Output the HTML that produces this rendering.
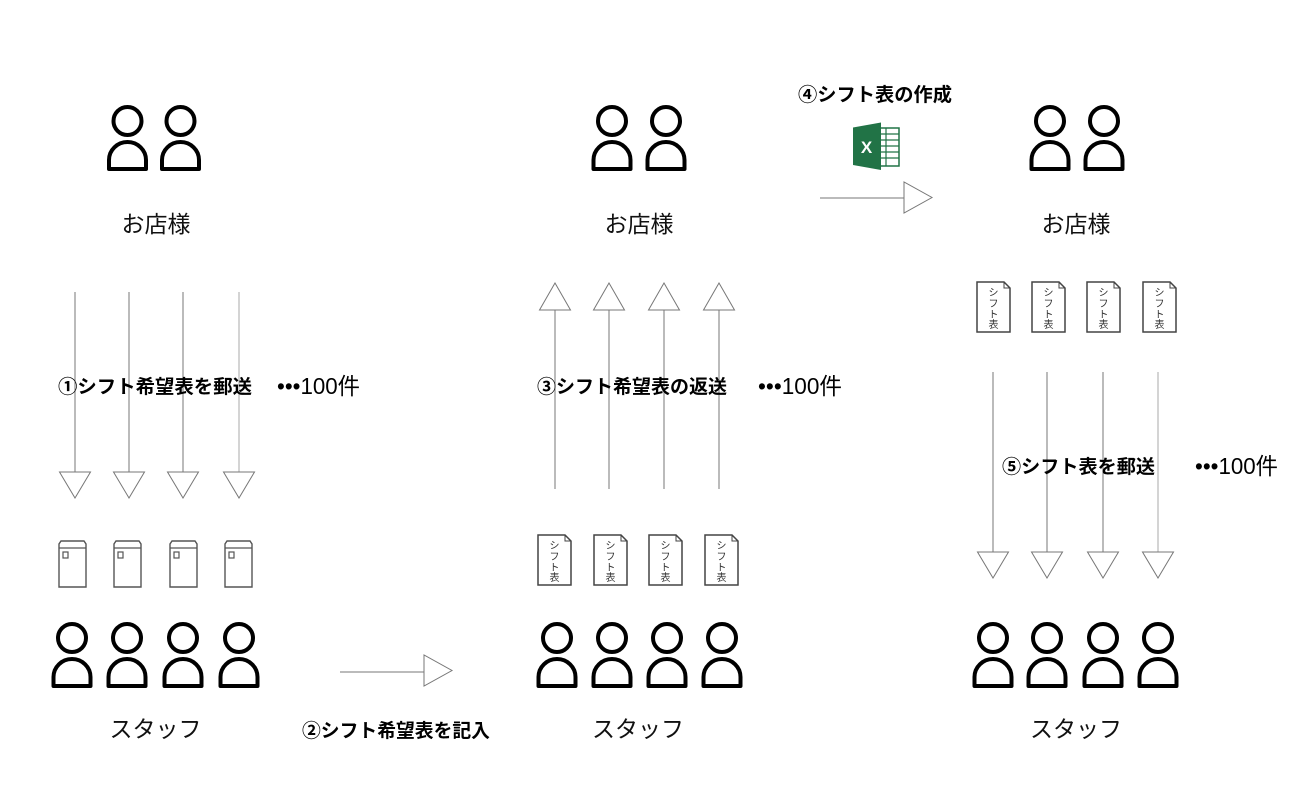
<!DOCTYPE html>
<html><head><meta charset="utf-8">
<style>
html,body{margin:0;padding:0;background:#fff;}
svg{display:block;}
.jp{font-family:"Liberation Sans","Noto Sans CJK JP",sans-serif;}
</style></head>
<body>
<svg width="1300" height="800" viewBox="0 0 1300 800" xmlns="http://www.w3.org/2000/svg">
<defs>
  <g id="person">
    <circle cx="0" cy="16" r="14" fill="none" stroke="#000" stroke-width="4"/>
    <path d="M-18.5,64 V55 A18.5,18 0 0 1 18.5,55 V64 Z" fill="none" stroke="#000" stroke-width="4" stroke-linejoin="round"/>
  </g>
  <g id="env">
    <path d="M2,0 H25 L27,3 V46 H0 V3 Z" fill="#fff" stroke="#555" stroke-width="1.4"/>
    <line x1="0" y1="7" x2="27" y2="7" stroke="#555" stroke-width="1.2"/>
    <rect x="4" y="11" width="5" height="6" fill="none" stroke="#555" stroke-width="1.2"/>
  </g>
  <g id="doc">
    <path d="M0,0 H27 L33,6 V50 H0 Z" fill="#fff" stroke="#444" stroke-width="1.5"/>
    <path d="M27,0 V6 H33" fill="none" stroke="#444" stroke-width="1"/>
    <g font-family="'Liberation Sans','Noto Sans CJK JP',sans-serif" font-size="10" fill="#333" text-anchor="middle">
      <text x="16.5" y="14">シ</text>
      <text x="16.5" y="25">フ</text>
      <text x="16.5" y="36">ト</text>
      <text x="16.5" y="46">表</text>
    </g>
  </g>
</defs>

<!-- Top persons -->
<use href="#person" x="127.5" y="105"/>
<use href="#person" x="180.5" y="105"/>
<use href="#person" x="612" y="105"/>
<use href="#person" x="666" y="105"/>
<use href="#person" x="1050" y="105"/>
<use href="#person" x="1104" y="105"/>

<!-- Bottom persons -->
<use href="#person" x="72" y="622"/>
<use href="#person" x="127" y="622"/>
<use href="#person" x="183" y="622"/>
<use href="#person" x="239" y="622"/>
<use href="#person" x="557" y="622"/>
<use href="#person" x="612" y="622"/>
<use href="#person" x="667" y="622"/>
<use href="#person" x="722" y="622"/>
<use href="#person" x="993" y="622"/>
<use href="#person" x="1047" y="622"/>
<use href="#person" x="1103" y="622"/>
<use href="#person" x="1158" y="622"/>

<!-- Labels shop / staff -->
<g class="jp" font-size="23" fill="#111" text-anchor="middle">
  <text x="156" y="232">お店様</text>
  <text x="639" y="232">お店様</text>
  <text x="1076" y="232">お店様</text>
  <text x="155.5" y="737">スタッフ</text>
  <text x="638" y="737">スタッフ</text>
  <text x="1076" y="737">スタッフ</text>
</g>

<!-- Left group: down arrows -->
<g stroke="#777" stroke-width="1" fill="#fff">
  <line x1="75" y1="292" x2="75" y2="472"/>
  <line x1="129" y1="292" x2="129" y2="472"/>
  <line x1="183" y1="292" x2="183" y2="472"/>
  <line x1="239" y1="292" x2="239" y2="472" stroke="#aaa"/>
  <polygon points="59.5,472 90.5,472 75,498"/>
  <polygon points="113.5,472 144.5,472 129,498"/>
  <polygon points="167.5,472 198.5,472 183,498"/>
  <polygon points="223.5,472 254.5,472 239,498"/>
</g>

<!-- Envelopes -->
<use href="#env" x="59" y="541"/>
<use href="#env" x="114" y="541"/>
<use href="#env" x="170" y="541"/>
<use href="#env" x="225" y="541"/>

<!-- Middle group: up arrows -->
<g stroke="#777" stroke-width="1" fill="#fff">
  <line x1="555" y1="310" x2="555" y2="489"/>
  <line x1="609" y1="310" x2="609" y2="489"/>
  <line x1="664" y1="310" x2="664" y2="489"/>
  <line x1="719" y1="310" x2="719" y2="489"/>
  <polygon points="539.5,310 570.5,310 555,283"/>
  <polygon points="593.5,310 624.5,310 609,283"/>
  <polygon points="648.5,310 679.5,310 664,283"/>
  <polygon points="703.5,310 734.5,310 719,283"/>
</g>

<!-- Middle docs -->
<use href="#doc" x="538" y="535"/>
<use href="#doc" x="594" y="535"/>
<use href="#doc" x="649" y="535"/>
<use href="#doc" x="705" y="535"/>

<!-- Right docs -->
<use href="#doc" x="977" y="282"/>
<use href="#doc" x="1032" y="282"/>
<use href="#doc" x="1087" y="282"/>
<use href="#doc" x="1143" y="282"/>

<!-- Right group: down arrows -->
<g stroke="#777" stroke-width="1" fill="#fff">
  <line x1="993" y1="372" x2="993" y2="552"/>
  <line x1="1047" y1="372" x2="1047" y2="552"/>
  <line x1="1103" y1="372" x2="1103" y2="552"/>
  <line x1="1158" y1="372" x2="1158" y2="552" stroke="#aaa"/>
  <polygon points="977.5,552 1008.5,552 993,578"/>
  <polygon points="1031.5,552 1062.5,552 1047,578"/>
  <polygon points="1087.5,552 1118.5,552 1103,578"/>
  <polygon points="1142.5,552 1173.5,552 1158,578"/>
</g>

<!-- Horizontal arrows -->
<g stroke="#777" stroke-width="1" fill="#fff">
  <line x1="820" y1="198" x2="904" y2="198"/>
  <polygon points="904,182 904,213 932,197.5"/>
  <line x1="340" y1="672" x2="424" y2="672"/>
  <polygon points="424,655 424,686 452,670.5"/>
</g>

<!-- Excel icon -->
<g>
  <rect x="873" y="128" width="26" height="38" fill="#fff" stroke="#217346" stroke-width="1.5"/>
  <g stroke="#217346" stroke-width="1.2">
    <line x1="886" y1="128" x2="886" y2="166"/>
    <line x1="881" y1="134" x2="899" y2="134"/>
    <line x1="881" y1="140" x2="899" y2="140"/>
    <line x1="881" y1="146" x2="899" y2="146"/>
    <line x1="881" y1="152" x2="899" y2="152"/>
    <line x1="881" y1="158" x2="899" y2="158"/>
  </g>
  <polygon points="853,127.5 881,122.5 881,170 853,165" fill="#217346"/>
  <text x="866.5" y="153" font-family="'Liberation Sans',sans-serif" font-weight="bold" font-size="17" fill="#fff" text-anchor="middle">X</text>
</g>

<!-- Step labels -->
<g class="jp" font-weight="bold" font-size="19" fill="#000">
  <text x="58" y="393" textLength="194" lengthAdjust="spacingAndGlyphs">①シフト希望表を郵送</text>
  <text x="302" y="737" textLength="188" lengthAdjust="spacingAndGlyphs">②シフト希望表を記入</text>
  <text x="537" y="393" textLength="190" lengthAdjust="spacingAndGlyphs">③シフト希望表の返送</text>
  <text x="798" y="101" textLength="154" lengthAdjust="spacingAndGlyphs">④シフト表の作成</text>
  <text x="1002" y="473" textLength="153" lengthAdjust="spacingAndGlyphs">⑤シフト表を郵送</text>
</g>

<!-- Count labels -->
<g class="jp" font-size="23" fill="#000">
  <text x="277" y="394" textLength="83" lengthAdjust="spacingAndGlyphs">•••100件</text>
  <text x="758" y="394" textLength="84" lengthAdjust="spacingAndGlyphs">•••100件</text>
  <text x="1195" y="474" textLength="83" lengthAdjust="spacingAndGlyphs">•••100件</text>
</g>
</svg>
</body></html>
